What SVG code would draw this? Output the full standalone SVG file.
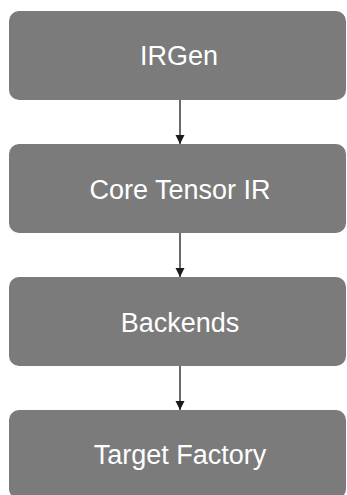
<svg xmlns="http://www.w3.org/2000/svg" width="347" height="495" viewBox="0 0 347 495">
  <style>
    .box { fill: #7b7b7b; }
    .label { fill: #ffffff; font-family: "Liberation Sans", Arial, sans-serif; font-size: 27px; text-anchor: middle; }
    .edge { stroke: #1a1a1a; stroke-width: 1.3; fill: none; }
  </style>
  <defs>
    <marker id="arrow" markerWidth="10" markerHeight="10" refX="9" refY="4.5" orient="auto" markerUnits="userSpaceOnUse">
      <path d="M0,0 L9,4.5 L0,9 Z" fill="#1a1a1a"/>
    </marker>
  </defs>
  <rect width="347" height="495" fill="#ffffff"/>

  <g id="irgen">
    <rect class="box" x="9" y="11" width="337" height="89" rx="10"/>
    <text class="label" x="179" y="65">IRGen</text>
  </g>
  <g id="core-tensor-ir">
    <rect class="box" x="9" y="144" width="337" height="89" rx="10"/>
    <text class="label" x="180" y="198.5">Core Tensor IR</text>
  </g>
  <g id="backends">
    <rect class="box" x="9" y="277" width="337" height="89" rx="10"/>
    <text class="label" x="180" y="331.5">Backends</text>
  </g>
  <g id="target-factory">
    <rect class="box" x="9" y="410" width="337" height="89" rx="10"/>
    <text class="label" x="180" y="463.5">Target Factory</text>
  </g>

  <g id="connectors">
    <line class="edge" x1="180" y1="100" x2="180" y2="144" marker-end="url(#arrow)"/>
    <line class="edge" x1="180" y1="233" x2="180" y2="277" marker-end="url(#arrow)"/>
    <line class="edge" x1="180" y1="366" x2="180" y2="410" marker-end="url(#arrow)"/>
  </g>
</svg>
